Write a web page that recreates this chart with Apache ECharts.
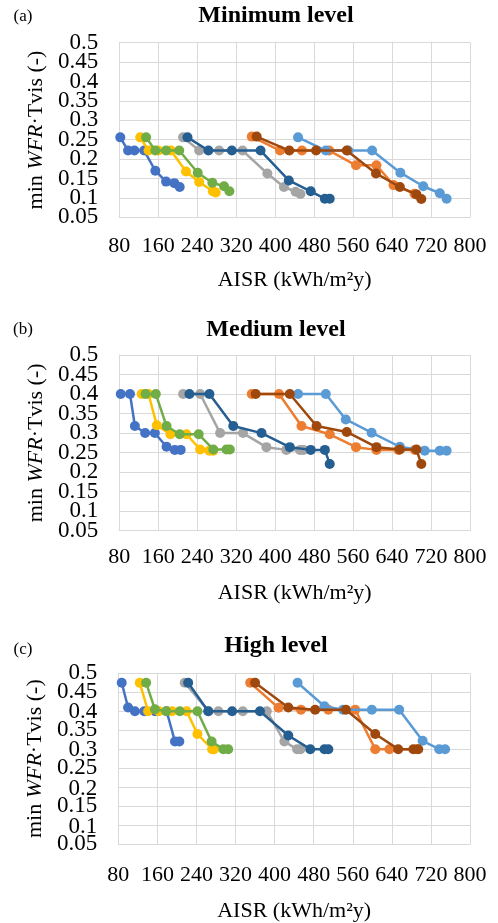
<!DOCTYPE html>
<html>
<head>
<meta charset="utf-8">
<script src="https://cdn.jsdelivr.net/npm/echarts@6/dist/echarts.min.js"></script>
<style>
html,body{margin:0;padding:0;background:#fff;}
#chart{width:498px;height:923px;}
</style>
</head>
<body>
<div id="chart"></div>
<script>
// ---- Data (AISR kWh/m²y, min WFR·Tvis) ----
const panelTitles = ['Minimum level', 'Medium level', 'High level'];
const panelTags = ['(a)', '(b)', '(c)'];
const xTicks = [80, 160, 240, 320, 400, 480, 560, 640, 720, 800];
const yTicks = [0.05, 0.1, 0.15, 0.2, 0.25, 0.3, 0.35, 0.4, 0.45, 0.5];
const seriesNames = ['S1', 'S2', 'S3', 'S4', 'S5', 'S6', 'S7', 'S8'];

// Panel (a) Minimum level
const aBlue = [[82,0.256],[98,0.222],[111,0.222],[131,0.222],[154,0.17],[176,0.142],[193,0.138],[204,0.128]];
const aOrange = [[352,0.258],[410,0.222],[455,0.222],[511,0.222],[566,0.184],[608,0.184],[643,0.133],[686,0.111]];
const aGray = [[211,0.256],[244,0.222],[285,0.222],[333,0.222],[384,0.163],[418,0.128],[442,0.116],[452,0.11]];
const aYellow = [[123,0.256],[140,0.222],[160,0.222],[186,0.222],[217,0.168],[244,0.141],[272,0.117],[278,0.114]];
const aLightBlue = [[447,0.256],[504,0.222],[550,0.222],[599,0.222],[657,0.165],[704,0.13],[738,0.112],[752,0.098]];
const aGreen = [[135,0.256],[154,0.222],[176,0.222],[203,0.222],[241,0.165],[271,0.139],[295,0.13],[306,0.117]];
const aDarkOrange = [[362,0.258],[429,0.222],[484,0.222],[547,0.222],[607,0.163],[656,0.128],[690,0.109],[700,0.097]];
const aDarkBlue = [[220,0.256],[263,0.222],[311,0.222],[370,0.222],[428,0.145],[473,0.117],[502,0.098],[512,0.098]];

// Panel (b) Medium level
const bBlue = [[83,0.40],[102,0.40],[112,0.318],[133,0.30],[153,0.30],[177,0.265],[194,0.257],[206,0.257]];
const bOrange = [[352,0.40],[408,0.40],[454,0.318],[512,0.297],[566,0.264],[608,0.257],[653,0.257],[687,0.257]];
const bGray = [[211,0.40],[246,0.40],[287,0.30],[334,0.30],[382,0.264],[423,0.257],[451,0.257],[458,0.257]];
const bYellow = [[126,0.40],[140,0.40],[157,0.32],[185,0.297],[218,0.297],[246,0.258],[265,0.255],[273,0.255]];
const bLightBlue = [[447,0.40],[504,0.40],[545,0.335],[598,0.301],[656,0.265],[707,0.255],[738,0.255],[752,0.255]];
const bGreen = [[134,0.40],[155,0.40],[177,0.318],[204,0.297],[243,0.297],[273,0.258],[300,0.258],[307,0.258]];
const bDarkOrange = [[360,0.40],[430,0.40],[485,0.318],[547,0.303],[608,0.264],[656,0.258],[690,0.258],[700,0.221]];
const bDarkBlue = [[224,0.40],[265,0.40],[314,0.318],[372,0.30],[430,0.264],[473,0.257],[502,0.257],[512,0.221]];

// Panel (c) High level
const cBlue = [[87,0.475],[100,0.41],[114,0.40],[133,0.40],[155,0.40],[179,0.40],[196,0.32],[205,0.32]];
const cOrange = [[350,0.475],[408,0.409],[454,0.404],[510,0.404],[565,0.404],[606,0.30],[635,0.30],[691,0.30]];
const cGray = [[216,0.475],[265,0.40],[285,0.40],[335,0.40],[384,0.40],[420,0.32],[446,0.30],[453,0.30]];
const cYellow = [[124,0.475],[141,0.40],[163,0.40],[190,0.40],[220,0.40],[242,0.34],[272,0.30],[276,0.30]];
const cLightBlue = [[447,0.475],[502,0.413],[540,0.404],[599,0.404],[655,0.404],[703,0.322],[737,0.30],[749,0.30]];
const cGreen = [[137,0.475],[155,0.405],[178,0.40],[206,0.40],[242,0.40],[271,0.32],[295,0.30],[305,0.30]];
const cDarkOrange = [[360,0.475],[428,0.41],[483,0.404],[546,0.404],[606,0.34],[653,0.30],[684,0.30],[694,0.30]];
const cDarkBlue = [[223,0.475],[264,0.40],[313,0.40],[370,0.40],[428,0.336],[473,0.30],[502,0.30],[510,0.30]];

const panelData = [
  [aBlue, aOrange, aGray, aYellow, aLightBlue, aGreen, aDarkOrange, aDarkBlue],
  [bBlue, bOrange, bGray, bYellow, bLightBlue, bGreen, bDarkOrange, bDarkBlue],
  [cBlue, cOrange, cGray, cYellow, cLightBlue, cGreen, cDarkOrange, cDarkBlue]
];
const colors = ['#4472C4', '#ED7D31', '#A5A5A5', '#FFC000', '#5B9BD5', '#70AD47', '#9E480E', '#255E91'];

// ---- Layout ----
const FONT = '"Liberation Serif", "Times New Roman", serif';
const grids = [
  {left: 119.3, top: 42.7, width: 350.7, height: 174.6},
  {left: 119.3, top: 355, width: 350.7, height: 175.7},
  {left: 118.3, top: 673.3, width: 351.7, height: 173}
];
const titleY = [15.5, 330, 646];
const tagY = [17, 330, 650];
const xNameGap = [52, 52, 56];
const xLabelMargin = [18, 16, 20];
const Y_LABEL_SIZE = 23;

const chart = echarts.init(document.getElementById('chart'), null, {renderer: 'canvas'});

const yStep = yTicks[1] - yTicks[0];
// tick labels are split over two stacked axes (odd / even ticks) so none is auto-hidden
const yLabelFmt = (parity) => (v) => {
  const k = Math.round(v / yStep);
  return (k % 2 === parity) ? String(+(+v).toFixed(2)) : '';
};

const gridOpts = [], xAxes = [], yAxes = [], series = [], graphics = [];
grids.forEach(g => gridOpts.push(Object.assign({containLabel: false}, g)));
grids.forEach(g => gridOpts.push(Object.assign({containLabel: false}, g))); // overlay grids

grids.forEach((g, i) => {
  xAxes.push({
    type: 'value', gridIndex: i,
    min: xTicks[0], max: xTicks[xTicks.length - 1], interval: 80,
    name: 'AISR (kWh/m²y)', nameLocation: 'middle', nameGap: xNameGap[i],
    nameTextStyle: {fontFamily: FONT, fontSize: 22, color: '#000'},
    axisLine: {show: true, lineStyle: {color: '#D9D9D9', width: 1}},
    axisTick: {show: false},
    axisLabel: {fontFamily: FONT, fontSize: 22, color: '#000', margin: xLabelMargin[i],
      showMinLabel: true, showMaxLabel: true},
    splitLine: {show: true, lineStyle: {color: '#D9D9D9', width: 1}}
  });
  yAxes.push({
    type: 'value', gridIndex: i,
    min: yTicks[0], max: yTicks[yTicks.length - 1], interval: yStep,
    name: '{a|min }{b|WFR}{a|·Tvis (-)}', nameLocation: 'middle', nameGap: 71,
    nameTextStyle: {
      fontFamily: FONT, fontSize: 22, color: '#000',
      rich: {
        a: {fontFamily: FONT, fontSize: 22, color: '#000'},
        b: {fontFamily: FONT, fontSize: 22, color: '#000', fontStyle: 'italic'}
      }
    },
    axisLine: {show: true, lineStyle: {color: '#D9D9D9', width: 1}},
    axisTick: {show: false},
    axisLabel: {fontFamily: FONT, fontSize: Y_LABEL_SIZE, color: '#000', margin: 21,
      showMinLabel: true, showMaxLabel: true, formatter: yLabelFmt(1)},
    splitLine: {show: true, lineStyle: {color: '#D9D9D9', width: 1}}
  });
  panelData[i].forEach((d, k) => {
    series.push({
      type: 'line', name: seriesNames[k], xAxisIndex: i, yAxisIndex: i,
      data: d, symbol: 'circle', symbolSize: 10, showSymbol: true,
      lineStyle: {width: 2.5, color: colors[k]},
      itemStyle: {color: colors[k]},
      z: 2 + k, animation: false
    });
  });
  graphics.push({
    type: 'text', x: 276, y: titleY[i],
    style: {text: panelTitles[i], fill: '#000', align: 'center', verticalAlign: 'middle',
      font: 'bold 24px ' + FONT}
  });
  graphics.push({
    type: 'text', x: 23, y: tagY[i],
    style: {text: panelTags[i], fill: '#000', align: 'center', verticalAlign: 'middle',
      font: '17px ' + FONT}
  });
});
// overlay axes carrying the even tick labels
grids.forEach((g, i) => {
  xAxes.push({
    type: 'value', gridIndex: 3 + i, show: false,
    min: xTicks[0], max: xTicks[xTicks.length - 1], interval: 80
  });
  yAxes.push({
    type: 'value', gridIndex: 3 + i,
    min: yTicks[0], max: yTicks[yTicks.length - 1], interval: yStep,
    axisLine: {show: false}, axisTick: {show: false}, splitLine: {show: false},
    axisLabel: {fontFamily: FONT, fontSize: Y_LABEL_SIZE, color: '#000', margin: 21,
      showMinLabel: true, showMaxLabel: true, formatter: yLabelFmt(0)}
  });
});

chart.setOption({
  backgroundColor: '#fff',
  animation: false,
  grid: gridOpts,
  xAxis: xAxes,
  yAxis: yAxes,
  series: series,
  graphic: graphics
});
</script>
</body>
</html>
